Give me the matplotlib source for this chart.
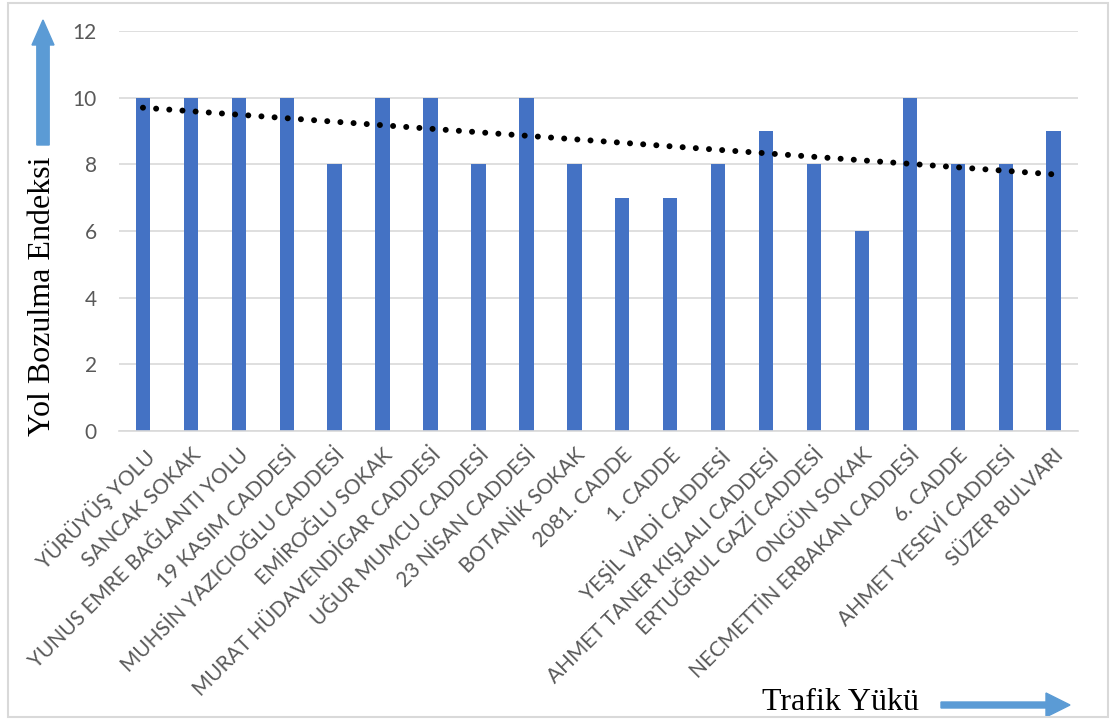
import numpy as np
import matplotlib.pyplot as plt
from matplotlib.patches import FancyArrow, Rectangle

streets = [
    "YÜRÜYÜŞ YOLU", "SANCAK SOKAK", "YUNUS EMRE BAĞLANTI YOLU",
    "19 KASIM CADDESİ", "MUHSİN YAZICIOĞLU CADDESİ", "EMİROĞLU SOKAK",
    "MURAT HÜDAVENDİGAR CADDESİ", "UĞUR MUMCU CADDESİ", "23 NİSAN CADDESİ",
    "BOTANİK SOKAK", "2081. CADDE", "1. CADDE", "YEŞİL VADİ CADDESİ",
    "AHMET TANER KIŞLALI CADDESİ", "ERTUĞRUL GAZİ CADDESİ", "ONGÜN SOKAK",
    "NECMETTİN ERBAKAN CADDESİ", "6. CADDE", "AHMET YESEVİ CADDESİ",
    "SÜZER BULVARI",
]
deterioration = [10, 10, 10, 10, 8, 10, 10, 8, 10, 8,
                 7, 7, 8, 9, 8, 6, 10, 8, 8, 9]
y_ticks = [0, 2, 4, 6, 8, 10, 12]

BAR_COLOR = "#4472C4"
ARROW_COLOR = "#5B9BD5"
GRID_COLOR = "#D9D9D9"
TEXT_GRAY = "#595959"

fig = plt.figure(figsize=(11.16, 7.23), dpi=100)
ax = fig.add_axes([0.1066, 0.4039, 0.859, 0.5532])

x = np.arange(len(streets))
ax.bar(x, deterioration, width=0.3, color=BAR_COLOR, zorder=2)

# linear trend across the streets
slope, intercept = np.polyfit(x, deterioration, 1)
ax.plot(x, slope * x + intercept, color="black", lw=4.3,
        linestyle=(0, (0.01, 2.2)), dash_capstyle="round", zorder=3)

ax.set_xlim(-0.5, len(streets) - 0.5)
ax.set_ylim(0, 12)
ax.set_yticks(y_ticks)
ax.set_yticklabels([str(t) for t in y_ticks], fontsize=15, color=TEXT_GRAY,
                   family="Lato")
ax.set_xticks(x)
ax.set_xticklabels(streets, rotation=45, ha="right", rotation_mode="anchor",
                   fontsize=15, color=TEXT_GRAY, family="Lato")
ax.tick_params(axis="both", length=0)
ax.tick_params(axis="y", pad=16)
ax.tick_params(axis="x", pad=10)
ax.grid(axis="y", color=GRID_COLOR, lw=1.2, zorder=0)
ax.set_axisbelow(True)
for side in ("top", "right", "left"):
    ax.spines[side].set_visible(False)
ax.spines["bottom"].set_color(GRID_COLOR)
ax.spines["bottom"].set_linewidth(1.2)

# axis captions in serif with direction arrows
fig.text(0.038, 0.59, "Yol Bozulma Endeksi", rotation=90, ha="center",
         va="center", fontsize=23, family="Liberation Serif")
fig.text(0.753, 0.028, "Trafik Yükü", ha="center", va="center",
         fontsize=23, family="Liberation Serif")

W, H = 1116, 723
fig.add_artist(FancyArrow(43 / W, 1 - 145 / H, 0, -(20 - 145) / H,
                          width=8 / H, head_width=22 / W,
                          head_length=25 / H, length_includes_head=True,
                          color=ARROW_COLOR, transform=fig.transFigure))
fig.add_artist(FancyArrow(941 / W, 1 - 705 / H, (1070 - 941) / W, 0,
                          width=6 / H, head_width=24 / H,
                          head_length=24 / W, length_includes_head=True,
                          color=ARROW_COLOR, transform=fig.transFigure))

fig.add_artist(Rectangle((8 / W, 1 - 717 / H), 1100 / W, 714 / H,
                         fill=False, edgecolor=GRID_COLOR, lw=1.5,
                         transform=fig.transFigure))

fig.savefig("out.png", dpi=100)
